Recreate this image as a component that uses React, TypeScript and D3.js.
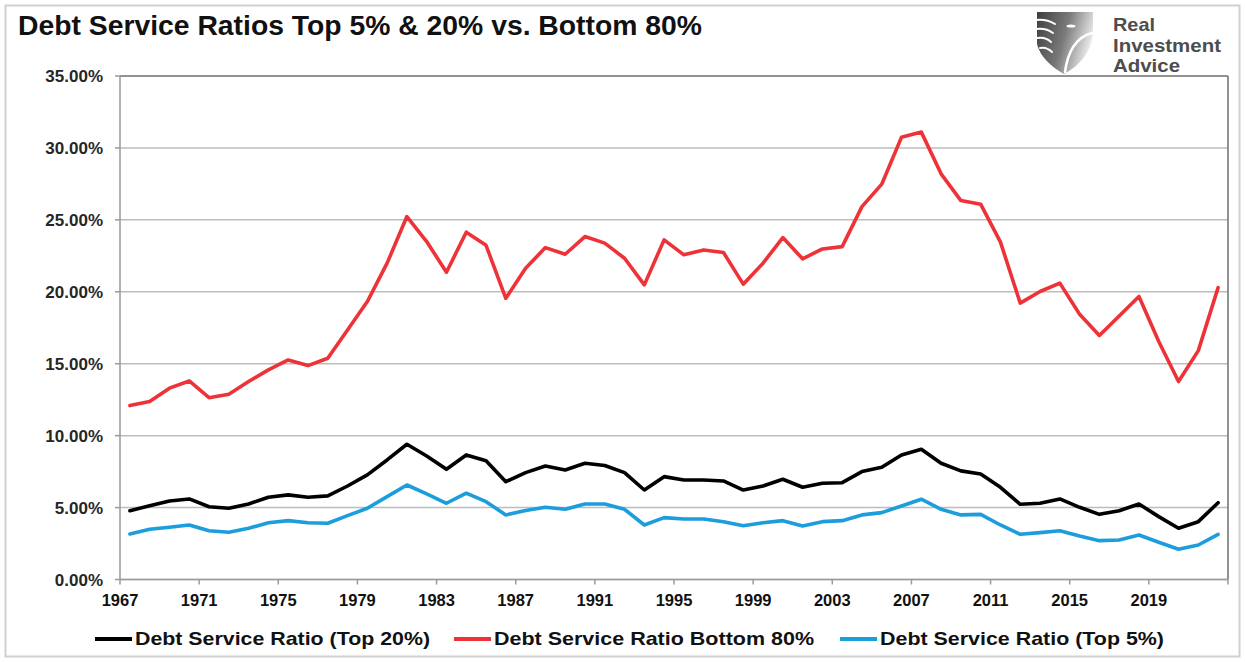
import React from "react";
import * as d3 from "d3";

const startYear = 1967;
const tickYears = [1967, 1971, 1975, 1979, 1983, 1987, 1991, 1995, 1999, 2003, 2007, 2011, 2015, 2019];
const yTicks = [0, 5, 10, 15, 20, 25, 30, 35];

const top20 = [4.78, 5.13, 5.46, 5.6, 5.06, 4.95, 5.25, 5.72, 5.88, 5.72, 5.81, 6.5, 7.27, 8.31, 9.4, 8.59, 7.66, 8.66, 8.25,
  6.8, 7.43, 7.89, 7.61, 8.08, 7.92, 7.43, 6.22, 7.15, 6.92, 6.92, 6.85, 6.22, 6.5, 6.97, 6.41, 6.69, 6.73,
  7.5, 7.8, 8.66, 9.05, 8.08, 7.55, 7.34, 6.41, 5.23, 5.3, 5.6, 5.02, 4.53, 4.78, 5.25, 4.37, 3.56, 4.02, 5.34];
const bottom80 = [12.09, 12.37, 13.3, 13.8, 12.64, 12.88, 13.76, 14.57, 15.26, 14.87, 15.38, 17.35, 19.32, 21.99, 25.23, 23.49, 21.36, 24.14, 23.23,
  19.55, 21.64, 23.07, 22.61, 23.84, 23.38, 22.33, 20.48, 23.61, 22.57, 22.91, 22.73, 20.53, 21.99, 23.77, 22.29, 22.98, 23.14,
  25.92, 27.48, 30.75, 31.1, 28.2, 26.34, 26.09, 23.45, 19.21, 20.02, 20.6, 18.44, 16.96, 18.32, 19.67, 16.54, 13.76, 15.91, 20.29];
const top5 = [3.16, 3.49, 3.63, 3.79, 3.39, 3.28, 3.56, 3.95, 4.09, 3.95, 3.91, 4.44, 4.95, 5.76, 6.57, 5.95, 5.3, 6.0, 5.41,
  4.49, 4.79, 5.02, 4.88, 5.25, 5.25, 4.88, 3.79, 4.3, 4.21, 4.21, 4.02, 3.74, 3.95, 4.09, 3.72, 4.02, 4.09,
  4.49, 4.65, 5.11, 5.58, 4.88, 4.49, 4.53, 3.79, 3.14, 3.26, 3.39, 3.02, 2.7, 2.75, 3.09, 2.59, 2.1, 2.4, 3.14];

const seriesNames = ["Debt Service Ratio (Top 20%)", "Debt Service Ratio Bottom 80%", "Debt Service Ratio (Top 5%)"];
const seriesColors = ["#000000", "#ee3338", "#1c9ddc"];
const logoLines = ["Real", "Investment", "Advice"];

const W = 1245, H = 662;
const L = 120, R = 1228, T = 76, B = 579.5;
const FONT = "'Liberation Sans', Arial, Helvetica, sans-serif";

export default function App() {
  const n = top20.length;
  const x = d3.scaleLinear().domain([0, n]).range([L, R]);
  const y = d3.scaleLinear().domain([0, 35]).range([B, T]);
  const line = d3.line<number>().x((_, i) => x(i + 0.5)).y((d) => y(d)).curve(d3.curveLinear);
  const allSeries = [top20, bottom80, top5];
  const legendX = [95, 454, 840];
  const legendW = [295, 320, 284];
  const logoY = [30.5, 51.5, 72];
  const logoW = [42, 108, 67];

  return (
    <svg width={W} height={H} style={{ position: "absolute", left: 0, top: 0, background: "#fff" }} fontFamily={FONT}>
      <rect x={0} y={0} width={W} height={H} fill="#fff" />
      <rect x={5.5} y={5.5} width={W - 11} height={H - 11} fill="none" stroke="#d0d0d0" strokeWidth={2} />
      <text x={18} y={35} fontSize={28} fontWeight="bold" fill="#111" textLength={684} lengthAdjust="spacingAndGlyphs">Debt Service Ratios Top 5% &amp; 20% vs. Bottom 80%</text>

      {/* logo */}
      <defs>
        <linearGradient id="eagleGrad" x1="0" y1="0" x2="1" y2="0.3">
          <stop offset="0%" stopColor="#3e3e3e" />
          <stop offset="55%" stopColor="#7a7a7a" />
          <stop offset="100%" stopColor="#e6e6e6" />
        </linearGradient>
      </defs>
      <g>
        <path d="M1037,12 H1093 V28 C1093,50 1082,64 1064,74 C1050,66 1040,56 1037,44 Z" fill="url(#eagleGrad)" />
        <g stroke="#fff" strokeWidth={2} fill="none" strokeLinecap="round">
          <path d="M1036,20 C1044,19 1050,21 1055,24" />
          <path d="M1036,29 C1043,28 1049,30 1053,33" />
          <path d="M1037,38 C1043,37 1048,39 1051,42" />
          <path d="M1040,48 C1045,47 1049,49 1052,52" />
          <path d="M1092,33 C1077,37 1068,50 1065,72" strokeWidth={2.6} />
        </g>
        <ellipse cx={1071} cy={26} rx={4.5} ry={1.6} fill="#fff" />
        {logoLines.map((t, i) => (
          <text key={t} x={1113} y={logoY[i]} fontSize={17.8} fontWeight="bold" fill="#4d4d4d" textLength={logoW[i]} lengthAdjust="spacingAndGlyphs">{t}</text>
        ))}
      </g>

      {/* gridlines */}
      {yTicks.map((t) => (
        <line key={"g" + t} x1={L} x2={R} y1={y(t)} y2={y(t)} stroke={t === 35 ? "#6e6e6e" : "#bdbdbd"} strokeWidth={1.5} />
      ))}
      <line x1={R} x2={R} y1={T} y2={B} stroke="#6e6e6e" strokeWidth={1.5} />
      <line x1={L} x2={L} y1={T} y2={B} stroke="#9a9a9a" strokeWidth={1.5} />
      <line x1={L} x2={R} y1={B} y2={B} stroke="#9a9a9a" strokeWidth={1.5} />

      {/* y axis */}
      {yTicks.map((t) => (
        <g key={"y" + t}>
          <line x1={L - 5} x2={L} y1={y(t)} y2={y(t)} stroke="#9a9a9a" strokeWidth={1.5} />
          <text x={103} y={y(t) + 6} textAnchor="end" fontSize={17} fontWeight="bold" fill="#262626">{t.toFixed(2)}%</text>
        </g>
      ))}

      {/* x axis */}
      {tickYears.map((yr) => (
        <g key={"x" + yr}>
          <line x1={x(yr - startYear)} x2={x(yr - startYear)} y1={B} y2={B + 5} stroke="#9a9a9a" strokeWidth={1.5} />
          <text x={x(yr - startYear)} y={B + 26} textAnchor="middle" fontSize={16.5} fontWeight="bold" fill="#111">{yr}</text>
        </g>
      ))}
      <line x1={R} x2={R} y1={B} y2={B + 5} stroke="#9a9a9a" strokeWidth={1.5} />

      {/* series */}
      {allSeries.map((s, k) => (
        <path key={"s" + k} d={line(s) || ""} fill="none" stroke={seriesColors[k]} strokeWidth={3.6} strokeLinejoin="round" strokeLinecap="round" />
      ))}

      {/* legend */}
      {seriesNames.map((nm, k) => (
        <g key={"l" + k}>
          <line x1={legendX[k]} x2={legendX[k] + 37} y1={639} y2={639} stroke={seriesColors[k]} strokeWidth={4} />
          <text x={legendX[k] + 40} y={645} fontSize={18.5} fontWeight="bold" fill="#111" textLength={legendW[k]} lengthAdjust="spacingAndGlyphs">{nm}</text>
        </g>
      ))}
    </svg>
  );
}
